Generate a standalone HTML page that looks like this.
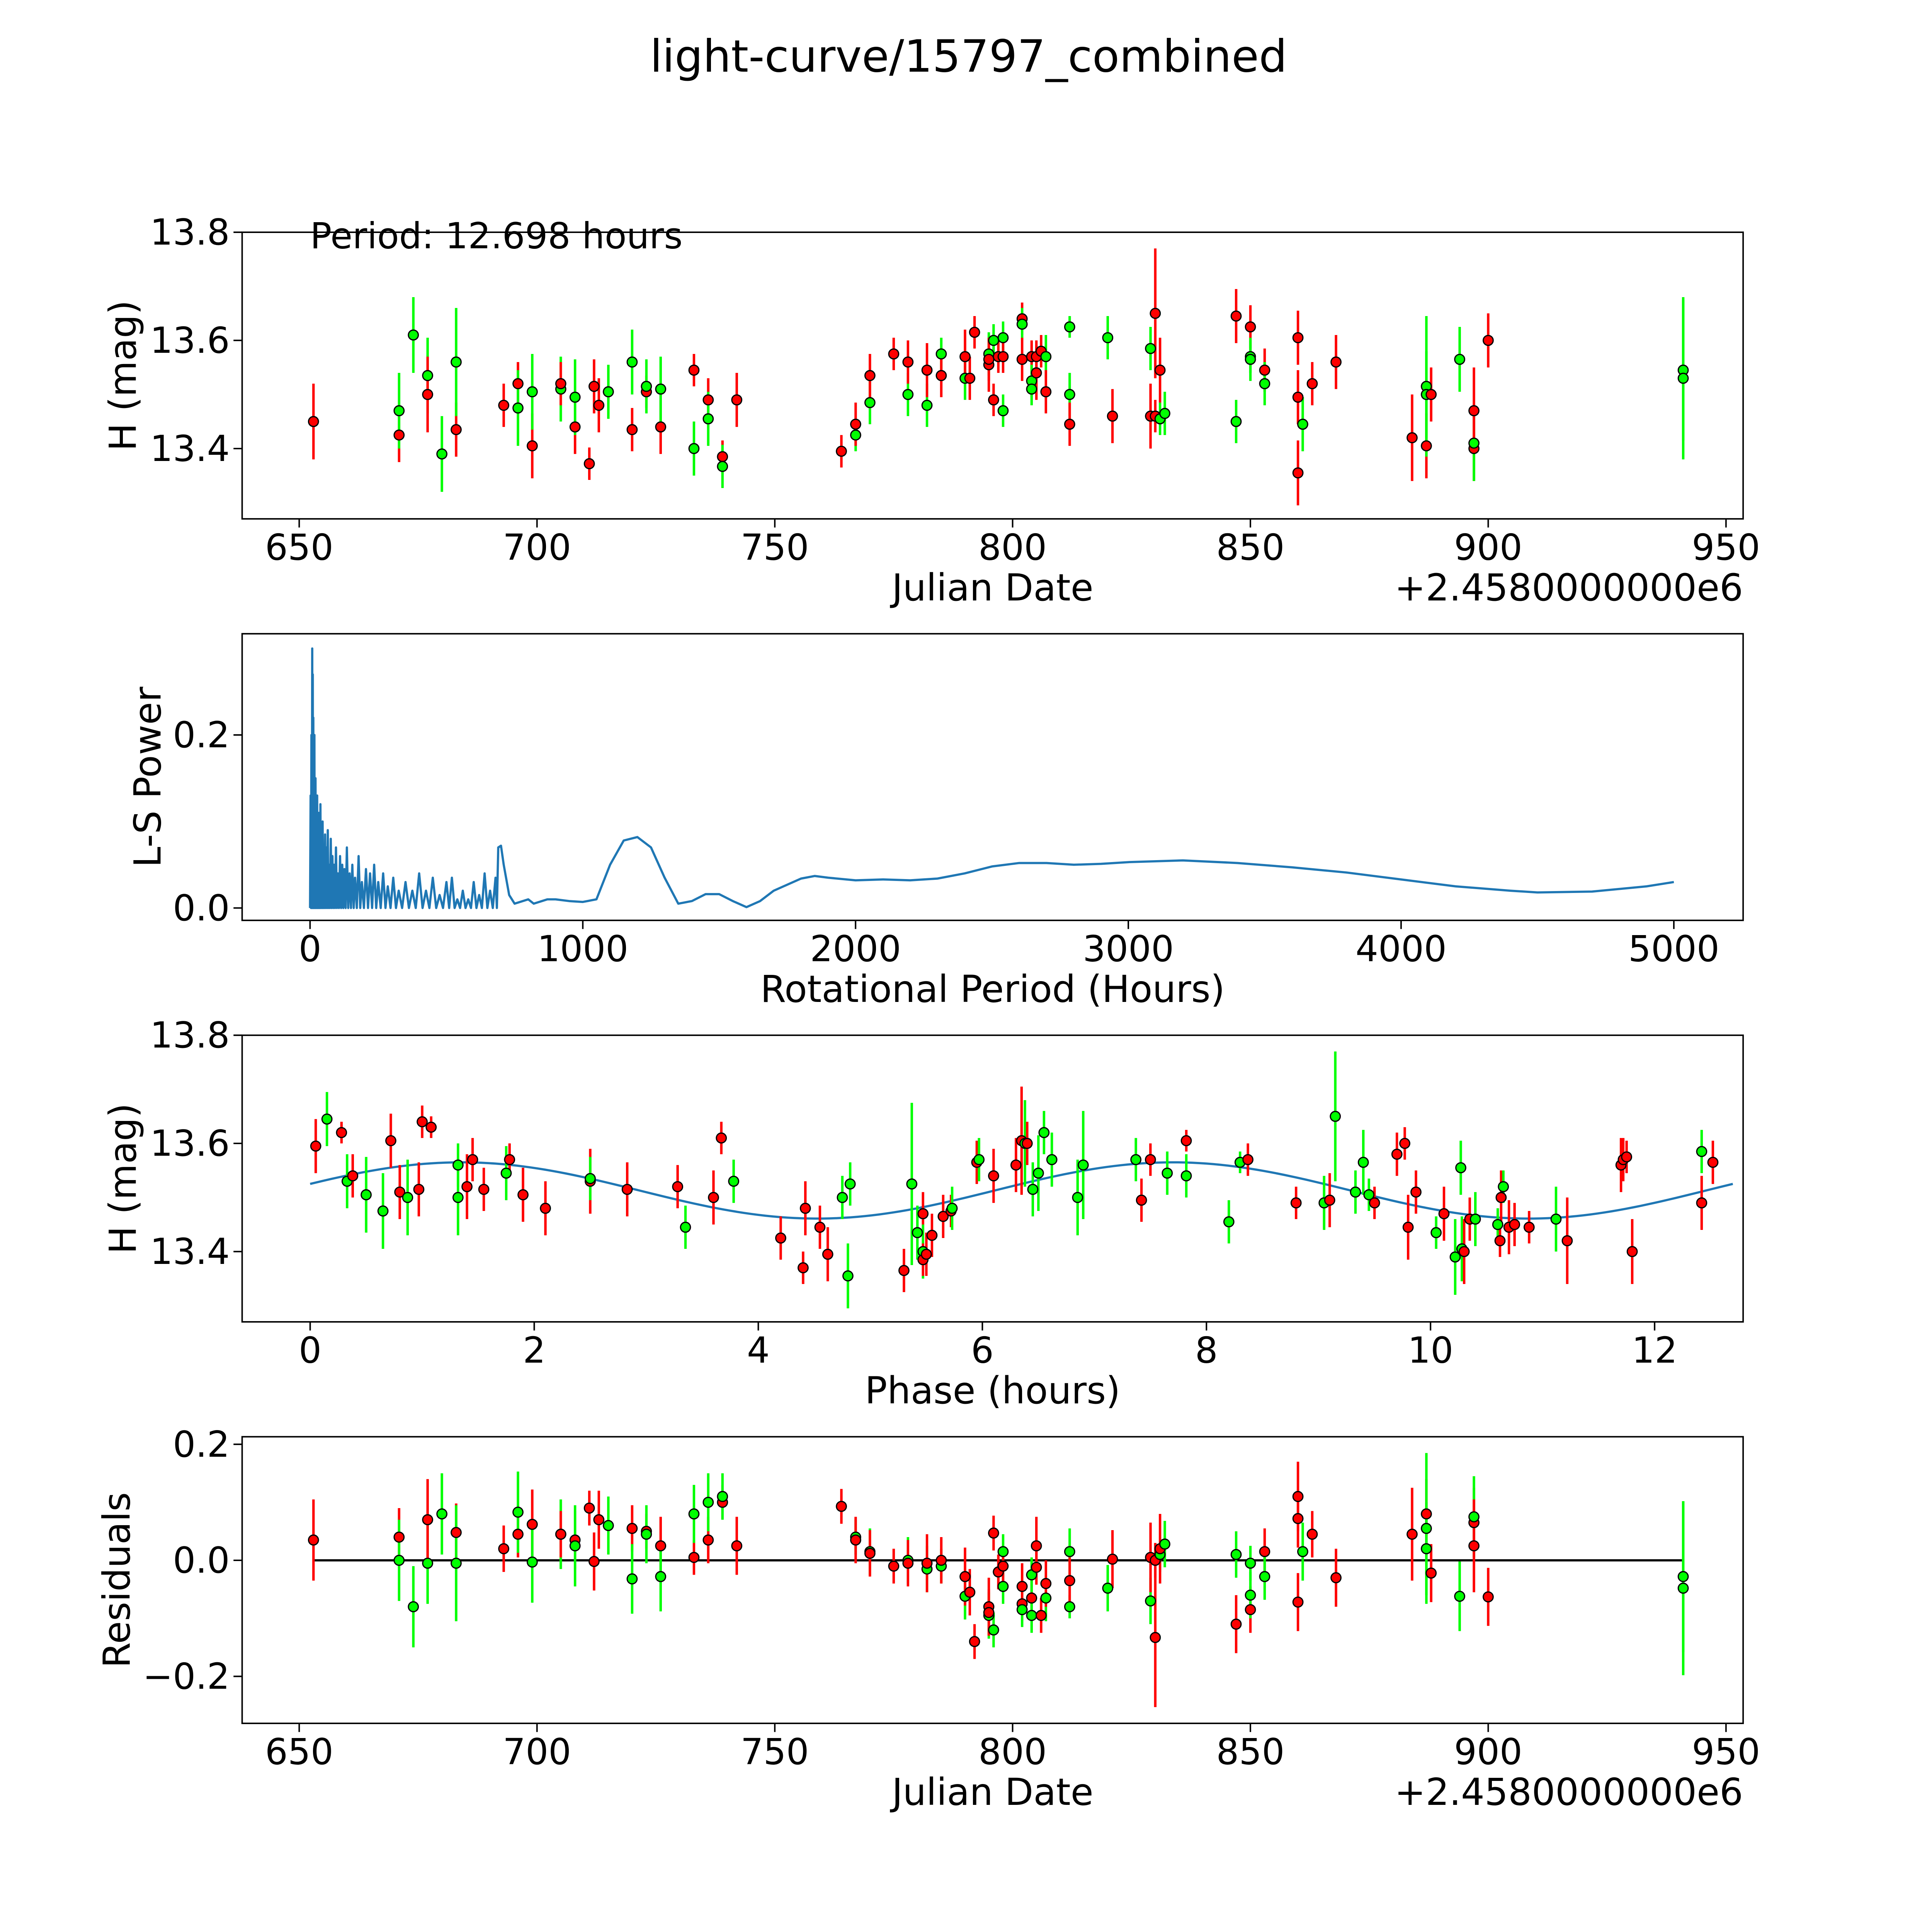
<!DOCTYPE html>
<html><head><meta charset="utf-8"><style>
html,body{margin:0;padding:0;background:#fff;overflow:hidden;width:5400px;height:5400px}
svg{display:block}
text{font-family:"DejaVu Sans","Liberation Sans",sans-serif;fill:#000}
</style></head><body>
<svg id="fig" width="5400" height="5400" viewBox="0 0 1689 1689" xmlns="http://www.w3.org/2000/svg">
<rect width="1689" height="1689" fill="#fff"/>
<text x="784" y="58" font-size="36" text-anchor="middle">light-curve/15797_combined</text>
</svg>
<script>
// ---- data: panel 1 (Julian date offset, H mag, color, error) ----
const lcDates=[653,671,671,674,677,677,680,683,683,693,696,696,699,699,705,705,708,708,711,712,713,715,720,720,723,723,726,726,733,733,736,736,739,739,742,764,767,767,770,770,775,778,778,782,782,785,785,790,790,791,792,795,795,795,796,796,797,798,798,798,802,802,802,804,804,804,805,805,806,807,807,812,812,812,820,821,829,829,830,830,831,831,832,847,847,850,850,850,853,853,860,860,860,861,863,868,884,887,887,887,888,894,897,897,897,900,941,941];
const lcMags=[13.45,13.425,13.47,13.61,13.535,13.50,13.39,13.435,13.56,13.48,13.52,13.475,13.405,13.505,13.51,13.52,13.44,13.495,13.372,13.515,13.48,13.505,13.435,13.56,13.505,13.515,13.44,13.51,13.545,13.40,13.49,13.455,13.385,13.367,13.49,13.395,13.425,13.445,13.485,13.535,13.575,13.5,13.56,13.48,13.545,13.575,13.535,13.53,13.57,13.53,13.615,13.555,13.575,13.565,13.6,13.49,13.57,13.605,13.47,13.57,13.64,13.63,13.565,13.57,13.525,13.51,13.54,13.57,13.58,13.57,13.505,13.625,13.5,13.445,13.605,13.46,13.585,13.46,13.65,13.46,13.455,13.545,13.465,13.645,13.45,13.625,13.57,13.565,13.545,13.52,13.605,13.495,13.355,13.445,13.52,13.56,13.42,13.405,13.515,13.5,13.5,13.565,13.4,13.41,13.47,13.6,13.545,13.53];
const lcColors="rrgggrgrgrrgrggrrgrrrgrgrgrgrgrgrgrrgrgrrgrgrgrgrrrrgrgrrggrrgrrggrrrgrggrgrgrrrgrgrgrggrgrrrgrrrrggrgrgrrg";
const lcErrs=[0.07,0.05,0.07,0.07,0.07,0.07,0.07,0.05,0.1,0.04,0.04,0.07,0.06,0.07,0.06,0.04,0.05,0.07,0.03,0.05,0.05,0.05,0.04,0.06,0.03,0.05,0.05,0.06,0.03,0.05,0.04,0.05,0.03,0.04,0.05,0.03,0.03,0.04,0.04,0.04,0.03,0.04,0.04,0.04,0.05,0.03,0.04,0.04,0.05,0.04,0.03,0.05,0.04,0.04,0.03,0.03,0.03,0.03,0.03,0.03,0.03,0.03,0.04,0.03,0.03,0.03,0.05,0.03,0.03,0.04,0.04,0.02,0.04,0.04,0.04,0.05,0.04,0.06,0.12,0.03,0.03,0.06,0.04,0.05,0.04,0.04,0.03,0.04,0.04,0.04,0.05,0.05,0.06,0.05,0.04,0.05,0.08,0.06,0.13,0.08,0.05,0.06,0.06,0.07,0.08,0.05,0.13,0.15];
// ---- data: panel 2 periodogram ----
const spikePeriods=[2,5,8,10,12,14,16,18,20,23,26,29,32,35,38,42,46,50,55,60,65,70,76,82,88,95,102,110,118,126,135,145,155,165,178,190,205,220,235,250,268,285,305,325,350,375,400,425,450,475,500,520,540,560,580,600,620,640,660,680,690,700];
const spikePowers=[0.13,0.2,0.3,0.27,0.22,0.17,0.2,0.12,0.15,0.1,0.13,0.09,0.11,0.08,0.12,0.07,0.1,0.06,0.085,0.07,0.09,0.05,0.08,0.06,0.05,0.07,0.04,0.06,0.05,0.045,0.07,0.04,0.05,0.035,0.06,0.03,0.045,0.04,0.05,0.03,0.04,0.025,0.035,0.02,0.03,0.02,0.04,0.02,0.035,0.015,0.03,0.035,0.01,0.02,0.01,0.03,0.015,0.04,0.02,0.035,0.07,0.072];
const smoothPeriods=[710,730,750,800,820,870,900,950,1000,1050,1100,1150,1200,1250,1300,1350,1400,1450,1500,1550,1600,1650,1700,1800,1850,1900,2000,2100,2200,2300,2400,2500,2600,2700,2800,2900,3000,3200,3400,3600,3800,4000,4200,4400,4500,4700,4900,5000];
const smoothPowers=[0.05,0.015,0.005,0.01,0.005,0.01,0.01,0.008,0.007,0.01,0.05,0.078,0.082,0.07,0.035,0.005,0.008,0.016,0.016,0.008,0.001,0.008,0.02,0.034,0.037,0.035,0.032,0.033,0.032,0.034,0.04,0.048,0.052,0.052,0.05,0.051,0.053,0.055,0.052,0.047,0.041,0.033,0.025,0.02,0.018,0.019,0.025,0.03];
// ---- data: panel 3 phased ----
const phPhases=[0.05,0.15,0.28,0.33,0.38,0.5,0.65,0.72,0.8,0.87,0.97,1.0,1.08,1.32,1.32,1.4,1.45,1.55,1.75,1.78,1.9,2.1,2.5,2.5,2.83,3.28,3.35,3.6,3.67,3.78,4.2,4.4,4.42,4.55,4.62,4.75,4.8,4.82,5.3,5.37,5.42,5.47,5.47,5.47,5.5,5.55,5.65,5.72,5.73,5.95,5.97,6.1,6.3,6.35,6.38,6.4,6.45,6.5,6.55,6.62,6.85,6.9,7.37,7.42,7.5,7.65,7.82,7.82,8.2,8.3,8.37,8.8,9.05,9.1,9.15,9.33,9.4,9.45,9.5,9.7,9.77,9.8,9.87,10.05,10.12,10.22,10.27,10.28,10.3,10.35,10.4,10.6,10.62,10.63,10.65,10.7,10.75,10.88,11.12,11.22,11.7,11.72,11.75,11.8,12.42,12.42,12.52];
const phMags=[13.595,13.645,13.62,13.53,13.54,13.505,13.475,13.605,13.51,13.5,13.515,13.64,13.63,13.56,13.5,13.52,13.57,13.515,13.545,13.57,13.505,13.48,13.53,13.535,13.515,13.52,13.445,13.5,13.61,13.53,13.425,13.37,13.48,13.445,13.395,13.5,13.355,13.525,13.365,13.525,13.435,13.47,13.4,13.385,13.395,13.43,13.465,13.475,13.48,13.565,13.57,13.54,13.56,13.605,13.6,13.6,13.515,13.545,13.62,13.57,13.5,13.56,13.57,13.495,13.57,13.545,13.605,13.54,13.455,13.565,13.57,13.49,13.49,13.495,13.65,13.51,13.565,13.505,13.49,13.58,13.6,13.445,13.51,13.435,13.47,13.39,13.555,13.405,13.4,13.46,13.46,13.45,13.42,13.5,13.52,13.445,13.45,13.445,13.46,13.42,13.56,13.57,13.575,13.4,13.585,13.49,13.565];
const phColors="rgrgrggrrgrrrggrrrgrrrrgrrgrrgrrrrrgggrggrgrrrrrgrgrrrgrgggggggrrgrgggrrgrggggrrrrrgrgggrrggrrgrrrgrrrrrgrrg";
const phErrs=[0.05,0.05,0.02,0.05,0.04,0.07,0.07,0.05,0.05,0.07,0.05,0.03,0.02,0.04,0.07,0.06,0.04,0.04,0.05,0.03,0.05,0.05,0.06,0.04,0.05,0.04,0.04,0.05,0.03,0.04,0.04,0.03,0.05,0.04,0.05,0.04,0.06,0.04,0.04,0.15,0.05,0.04,0.05,0.03,0.04,0.04,0.04,0.03,0.04,0.04,0.04,0.05,0.05,0.1,0.08,0.04,0.05,0.07,0.04,0.05,0.07,0.1,0.04,0.04,0.03,0.04,0.02,0.04,0.04,0.02,0.03,0.03,0.05,0.05,0.12,0.04,0.06,0.03,0.03,0.04,0.03,0.06,0.04,0.03,0.05,0.07,0.05,0.06,0.06,0.04,0.05,0.03,0.03,0.05,0.03,0.05,0.04,0.03,0.06,0.08,0.05,0.04,0.03,0.06,0.04,0.05,0.04];
const modelMean=13.513, modelAmp=0.052, modelPeak=1.35, period=12.698;
// ---- data: panel 4 residuals ----
const resDates=lcDates.slice();
const resVals=[0.035,0.04,0.0,-0.08,-0.005,0.07,0.08,0.048,-0.005,0.02,0.045,0.083,0.062,-0.003,0.045,0.045,0.035,0.025,0.09,-0.002,0.07,0.06,0.055,-0.032,0.05,0.045,0.025,-0.028,0.005,0.08,0.035,0.1,0.1,0.11,0.025,0.093,0.04,0.035,0.015,0.012,-0.01,0.0,-0.005,-0.015,-0.005,-0.01,0.0,-0.062,-0.028,-0.055,-0.14,-0.08,-0.095,-0.09,-0.12,0.047,-0.02,-0.045,0.015,-0.01,-0.075,-0.085,-0.045,-0.065,-0.095,-0.025,0.025,-0.012,-0.095,-0.065,-0.04,-0.08,0.015,-0.035,-0.048,0.002,-0.07,0.005,-0.133,0.0,0.01,0.02,0.028,-0.11,0.01,-0.085,-0.005,-0.06,0.015,-0.028,0.072,-0.072,0.11,0.015,0.045,-0.03,0.045,0.08,0.055,0.02,-0.022,-0.062,0.065,0.075,0.025,-0.063,-0.028,-0.048];
const resColors=lcColors;
const resErrs=lcErrs.slice();

const NS="http://www.w3.org/2000/svg";
const fig=document.getElementById('fig');
function mk(tag,attrs,parent){const e=document.createElementNS(NS,tag);for(const k in attrs)e.setAttribute(k,attrs[k]);(parent||fig).appendChild(e);return e;}
const L=196,R=1411;
function axes(name,top,bot,xmin,xmax,ymin,ymax,xticks,xlabs,yticks,ylabs,xlabel,ylabel,ylabX,offset){
  const g=mk('g',{});
  
  
  const sx=v=>L+(v-xmin)/(xmax-xmin)*(R-L);
  const sy=v=>bot-(v-ymin)/(ymax-ymin)*(bot-top);
  xticks.forEach((t,i)=>{const x=sx(t);mk('line',{x1:x,x2:x,y1:bot,y2:bot+7,stroke:'#000','stroke-width':1.2},g);
    const tx=mk('text',{x:x,y:bot+33,'font-size':29,'text-anchor':'middle'},g);tx.textContent=xlabs[i];
    
    });
  yticks.forEach((t,i)=>{const y=sy(t);mk('line',{x1:L,x2:L-7,y1:y,y2:y,stroke:'#000','stroke-width':1.2},g);
    const tx=mk('text',{x:L-10,y:y+10,'font-size':29,'text-anchor':'end'},g);tx.textContent=ylabs[i];
    
    });
  const xl=mk('text',{x:(L+R)/2,y:bot+66,'font-size':30,'text-anchor':'middle'},g);xl.textContent=xlabel;
  
  
  const cy=(top+bot)/2;
  const yl=mk('text',{x:ylabX+10,y:cy,'font-size':30,'text-anchor':'middle',transform:`rotate(-90 ${ylabX+10} ${cy})`},g);yl.textContent=ylabel;
  
  
  if(offset){const o=mk('text',{x:R,y:bot+66,'font-size':30,'text-anchor':'end'},g);o.textContent=offset;
    
    }
  const plot=mk('g',{},g);
  const frame=()=>{const f=mk('rect',{x:L,y:top,width:R-L,height:bot-top,fill:'none',stroke:'#000','stroke-width':1.2},g);
    
    };
  return {sx,sy,plot,frame};
}
function points(ax,xs,ys,cols,errs,name){
  const ge=mk('g',{},ax.plot), gm=mk('g',{},ax.plot);
  xs.forEach((x,i)=>{const c=cols[i]==='r'?'#ff0000':'#00ff00';const px=ax.sx(x);
    const el=mk('line',{x1:px,x2:px,y1:ax.sy(ys[i]-errs[i]),y2:ax.sy(ys[i]+errs[i]),stroke:c,'stroke-width':2},ge);
    
    
    const m=mk('circle',{cx:px,cy:ax.sy(ys[i]),r:4,fill:c,stroke:'#000','stroke-width':1},gm);
    
    });
}
// Panel 1
const jdT=[650,700,750,800,850,900,950];
const a1=axes('light-curve-panel',188,420,638,953.6,13.27,13.8,jdT,jdT.map(String),[13.4,13.6,13.8],['13.4','13.6','13.8'],'Julian Date','H (mag)',100,'+2.4580000000e6');
points(a1,lcDates,lcMags,lcColors,lcErrs,'light-curve-point');
a1.frame();
const pt=mk('text',{x:251,y:201,'font-size':29});pt.textContent='Period: 12.698 hours';


// Panel 2
const pT=[0,1000,2000,3000,4000,5000];
const a2=axes('periodogram-panel',513,745,-249,5254,-0.0143,0.317,pT,pT.map(String),[0,0.2],['0.0','0.2'],'Rotational Period (Hours)','L-S Power',120);
let d='M'+a2.sx(0)+' '+a2.sy(0);
spikePeriods.forEach((p,i)=>{d+=' L'+a2.sx(p)+' '+a2.sy(spikePowers[i]);if(i<spikePeriods.length-2)d+=' L'+a2.sx(p+(spikePeriods[i+1]-p)/2)+' '+a2.sy(0);});
smoothPeriods.forEach((p,i)=>{d+=' L'+a2.sx(p)+' '+a2.sy(smoothPowers[i]);});
const ls=mk('path',{d:d,fill:'none',stroke:'#1f77b4','stroke-width':1.8,'stroke-linejoin':'round'},a2.plot);


a2.frame();
// Panel 3
const phT=[0,2,4,6,8,10,12];
const a3=axes('phased-panel',838,1070,-0.607,12.79,13.27,13.8,phT,phT.map(String),[13.4,13.6,13.8],['13.4','13.6','13.8'],'Phase (hours)','H (mag)',100);
let md='';
for(let i=0;i<=200;i++){const p=period*i/200;const v=modelMean+modelAmp*Math.cos(4*Math.PI*(p-modelPeak)/period);md+=(i?' L':'M')+a3.sx(p)+' '+a3.sy(v);}
const ml=mk('path',{d:md,fill:'none',stroke:'#1f77b4','stroke-width':1.8},a3.plot);


points(a3,phPhases,phMags,phColors,phErrs,'phased-point');
a3.frame();
// Panel 4
const a4=axes('residuals-panel',1163,1395,638,953.6,-0.281,0.213,jdT,jdT.map(String),[-0.2,0,0.2],['\u22120.2','0.0','0.2'],'Julian Date','Residuals',95,'+2.4580000000e6');
const zl=mk('line',{x1:a4.sx(653),x2:a4.sx(941),y1:a4.sy(0),y2:a4.sy(0),stroke:'#000','stroke-width':1.8},a4.plot);


points(a4,resDates,resVals,resColors,resErrs,'residual-point');
a4.frame();
</script>
</body></html>
